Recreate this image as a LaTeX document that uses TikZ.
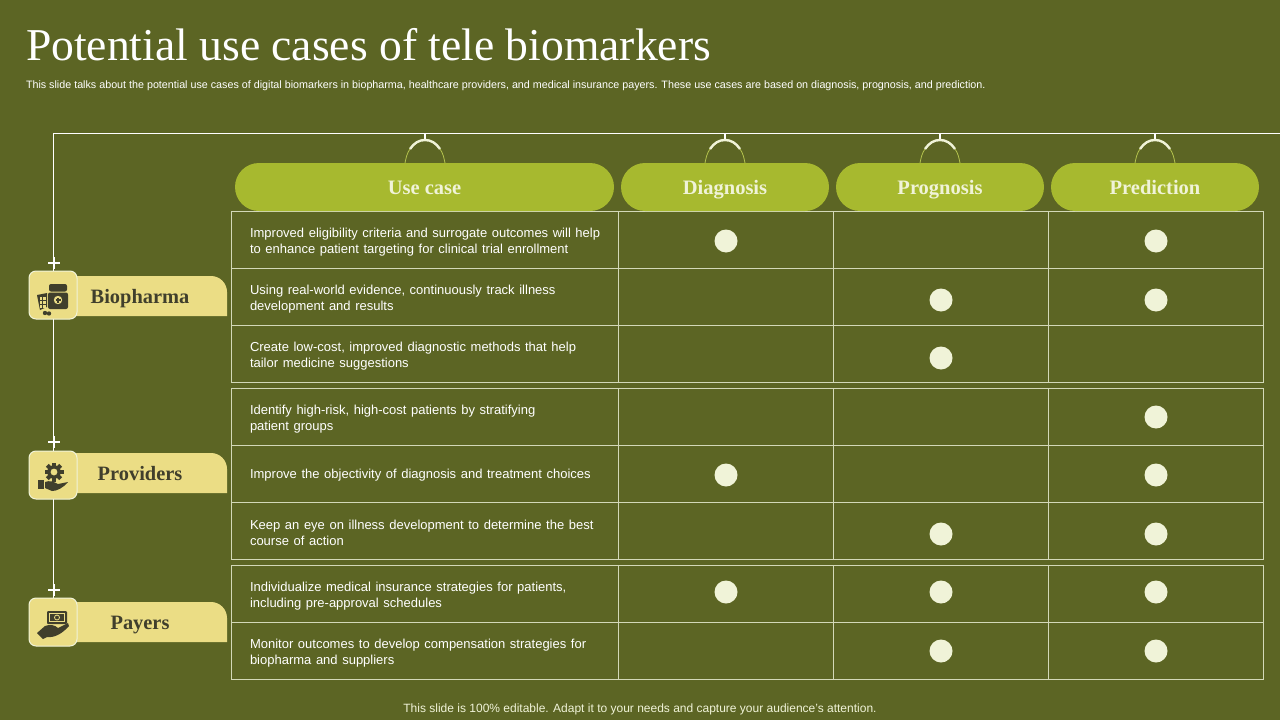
\documentclass[tikz,border=0pt]{standalone}
\usepackage{fontspec}
\setmainfont{Liberation Serif}
\setsansfont{Liberation Sans}
\usetikzlibrary{shapes.misc}
\definecolor{slidebg}{HTML}{5C6524}
\definecolor{pillgreen}{HTML}{A7B92F}
\definecolor{tagyellow}{HTML}{EBDD85}
\definecolor{dotcream}{HTML}{F0F3D8}
\definecolor{gridline}{HTML}{D3D8B8}
\definecolor{inkdark}{HTML}{403F2C}
\newcommand{\rowfont}{\sffamily\fontsize{13}{16}\selectfont\setlength{\spaceskip}{4.6pt}}
\begin{document}
\begin{tikzpicture}[
x=1pt, y=-1pt,
every node/.style={inner sep=0pt, outer sep=0pt},
headpill/.style={fill=pillgreen, rounded corners=24pt, minimum height=48pt, text height=15pt, text depth=1pt, text=dotcream, font=\fontsize{20.5}{22}\selectfont\bfseries},
rowtext/.style={anchor=west, align=left, text=white, font=\rowfont},
gridcell/.style={draw=gridline, line width=1pt, anchor=north west, minimum height=57pt},
tickdot/.style={circle, fill=dotcream, minimum size=23pt},
iconcard/.style={draw=dotcream, line width=1pt, fill=tagyellow, rounded corners=7pt, minimum size=48pt},
grouptag/.style={text=inkdark, text height=16pt, text depth=1pt, font=\fontsize{20.4}{22}\selectfont\bfseries},
plusmark/.style={cross out, draw=white, line width=2.6pt, rotate=45, minimum size=8pt},
trunk/.style={draw=white, line width=1pt},
tubearc/.style={draw=dotcream, line width=2.4pt},
tubethin/.style={draw=pillgreen!85!white, line width=.8pt},
iconfill/.style={fill=inkdark, draw=none}
]
\useasboundingbox[fill=slidebg] (0,0) rectangle (1280,720);

% title
\node (title) at (26,45) [anchor=west, text=white, font=\fontsize{45.6}{48}\selectfont] {Potential use cases of tele biomarkers};
\node (subtitle) at (26,85.5) [anchor=west, text=white, font=\sffamily\fontsize{10.73}{12}\selectfont] {This slide talks about the potential use cases of digital biomarkers in biopharma, healthcare providers, and medical insurance payers. These use cases are based on diagnosis, prognosis, and prediction.};
\node (footer) at (640,709.5) [text=dotcream, font=\sffamily\fontsize{12}{14}\selectfont] {This slide is 100\% editable. Adapt it to your needs and capture your audience's attention.};

% table grid
\foreach \y/\r in {211/a,268/b,325/c,388/d,445/e,502/f,565/g,622/h} {
  \node (cell\r) at (231,\y) [gridcell, minimum width=387pt] {};
  \foreach \x/\c in {618/a,833/b,1048/c}
    \node (cell\r\c) at (\x,\y) [gridcell, minimum width=215pt] {};
}

% use case texts
\node (rowa) at (250,242) [rowtext] {Improved eligibility criteria and surrogate outcomes will help\\to enhance patient targeting for clinical trial enrollment};
\node (rowb) at (250,299) [rowtext] {Using real-world evidence, continuously track illness\\development and results};
\node (rowc) at (250,356) [rowtext] {Create low-cost, improved diagnostic methods that help\\tailor medicine suggestions};
\node (rowd) at (250,419) [rowtext] {Identify high-risk, high-cost patients by stratifying\\patient groups};
\node (rowe) at (250,475) [rowtext] {Improve the objectivity of diagnosis and treatment choices};
\node (rowf) at (250,533) [rowtext] {Keep an eye on illness development to determine the best\\course of action};
\node (rowg) at (250,596) [rowtext] {Individualize medical insurance strategies for patients,\\including pre-approval schedules};
\node (rowh) at (250,653) [rowtext] {Monitor outcomes to develop compensation strategies for\\biopharma and suppliers};

% column heads
\node (usecase) at (424.5,187) [headpill, minimum width=379pt] {Use case};
\node (diagnosis) at (725,187) [headpill, minimum width=208pt] {Diagnosis};
\node (prognosis) at (940,187) [headpill, minimum width=208pt] {Prognosis};
\node (prediction) at (1155,187) [headpill, minimum width=208pt] {Prediction};

% ticks
\node (dotaa) at (726,241) [tickdot] {};
\node (dotac) at (1156,241) [tickdot] {};
\node (dotbb) at (941,300) [tickdot] {};
\node (dotbc) at (1156,300) [tickdot] {};
\node (dotcb) at (941,358) [tickdot] {};
\node (dotdc) at (1156,417) [tickdot] {};
\node (dotea) at (726,475) [tickdot] {};
\node (dotec) at (1156,475) [tickdot] {};
\node (dotfb) at (941,534) [tickdot] {};
\node (dotfc) at (1156,534) [tickdot] {};
\node (dotga) at (726,592) [tickdot] {};
\node (dotgb) at (941,592) [tickdot] {};
\node (dotgc) at (1156,592) [tickdot] {};
\node (dothb) at (941,651) [tickdot] {};
\node (dothc) at (1156,651) [tickdot] {};

% trunk line
\coordinate (corner) at (53,133);
\coordinate (trunkend) at (1280,133);
\draw[trunk] (trunkend) -- (corner) -- (53,598);

% hangers
\foreach \x in {425,725,940,1155} {
  \draw[trunk, line width=1.6pt] (\x,133) -- (\x,140);
  \draw[tubethin] (\x-20,163) .. controls (\x-19,158) and (\x-18,153) .. (\x-15,149);
  \draw[tubethin] (\x+20,163) .. controls (\x+19,158) and (\x+18,153) .. (\x+15,149);
  \draw[tubearc] (\x-15,149) .. controls (\x-11,143) and (\x-6,140) .. (\x,140) .. controls (\x+6,140) and (\x+11,143) .. (\x+15,149);
}

% side tags
\fill[tagyellow] (70,276) [rounded corners=16pt] -- (227,276) [sharp corners] -- (227,316) -- (70,316) -- cycle;
\fill[tagyellow] (70,453) [rounded corners=16pt] -- (227,453) [sharp corners] -- (227,493) -- (70,493) -- cycle;
\fill[tagyellow] (70,602) [rounded corners=16pt] -- (227,602) [sharp corners] -- (227,642) -- (70,642) -- cycle;
\node (biopharma) at (140,296) [grouptag] {Biopharma};
\node (providers) at (140,473) [grouptag] {Providers};
\node (payers) at (140,622) [grouptag] {Payers};

\node (cardbio) at (53,295) [iconcard] {};
\node (cardpro) at (53,475) [iconcard] {};
\node (cardpay) at (53,622) [iconcard] {};
\node (plusbio) at (54,263) [plusmark] {};
\node (pluspro) at (54,442) [plusmark] {};
\node (pluspay) at (54,590) [plusmark] {};

% bottle icon
\fill[iconfill, rounded corners=2pt] (49,284) rectangle (67,291.5);
\fill[iconfill, rounded corners=2pt] (48,292.5) rectangle (68,309);
\fill[tagyellow] (58,300) circle (4.2);
\draw[inkdark, line width=1.2pt] (55.5,300) -- (60.5,300) (58,297.5) -- (58,302.5);
\fill[iconfill] (37,295) -- (47,293) -- (47,307) -- (40,310) -- cycle;
\foreach \x in {39.5,43}
  \foreach \y in {297,301,305}
    \fill[tagyellow] (\x,\y) rectangle +(2.6,3);
\fill[iconfill] (45,313) circle (2.2) (49,313.5) circle (2.2);

% gear and hand icon
\draw[inkdark, line width=3.4pt] (54,472) circle (5.4);
\foreach \a in {0,45,...,315}
  \fill[iconfill, rotate around={\a:(54,472)}] (52,462.5) rectangle (56,466);
\fill[iconfill] (38,480) rectangle (43.5,489);
\fill[iconfill] (45,482) .. controls (50,480) and (54,482) .. (58,484) -- (68,482) .. controls (63,488) and (57,491) .. (52,491) -- (45,488) -- cycle;

% money and hand icon
\fill[iconfill, rounded corners=1pt] (47,611) rectangle (67,624);
\draw[tagyellow, line width=.8pt] (49.5,613.5) rectangle (64.5,621.5);
\draw[tagyellow, line width=.8pt] (57,617.5) circle (2.5);
\fill[iconfill] (37,633) -- (45,626) .. controls (50,624) and (55,625) .. (58,628) -- (68,623) -- (69,626) .. controls (62,634) and (54,638) .. (47,637) -- (43,639) -- cycle;
\end{tikzpicture}
\end{document}
